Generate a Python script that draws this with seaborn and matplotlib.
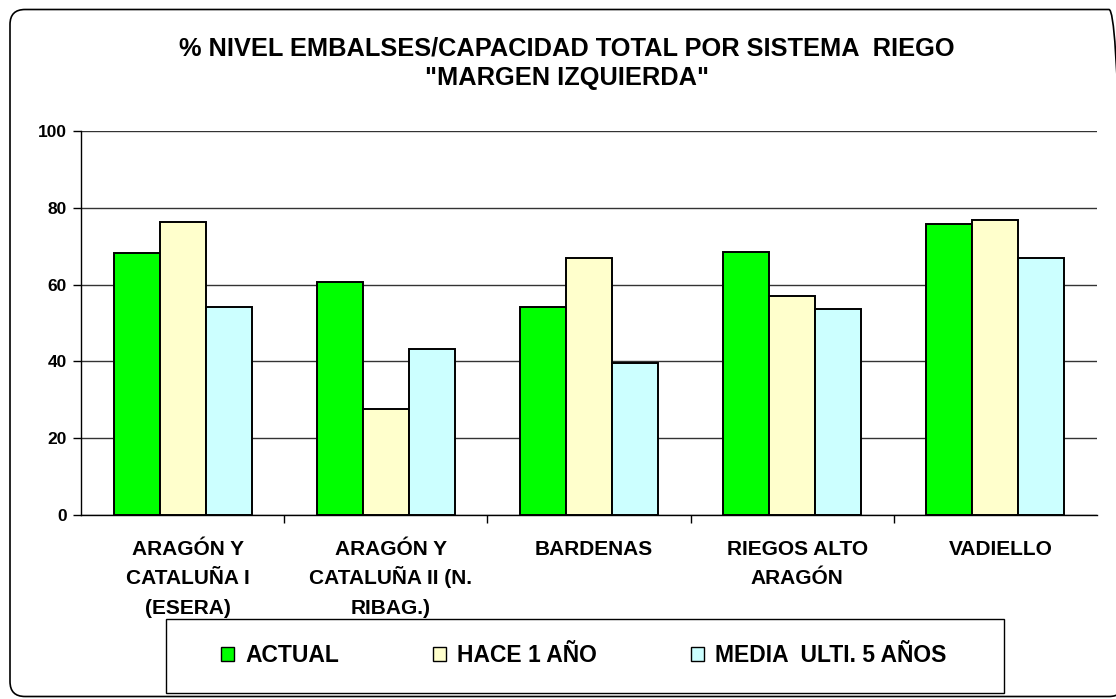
import numpy as np
import pandas as pd
import matplotlib
matplotlib.use('Agg')
import matplotlib.pyplot as plt
import matplotlib.transforms as mtransforms
from matplotlib.patches import FancyBboxPatch, Rectangle
import seaborn as sns

# Datos
sistemas = ['ARAGÓN Y\nCATALUÑA I\n(ESERA)', 'ARAGÓN Y\nCATALUÑA II (N.\nRIBAG.)',
            'BARDENAS', 'RIEGOS ALTO\nARAGÓN', 'VADIELLO']
actual = [68.2, 60.8, 54.1, 68.6, 75.7]
hace_1_anyo = [76.4, 27.7, 66.9, 57.0, 76.9]
media_5 = [54.1, 43.3, 39.7, 53.7, 66.9]
series = ['ACTUAL', 'HACE 1 AÑO', 'MEDIA  ULTI. 5 AÑOS']
colores = ['#00FF00', '#FFFFCC', '#CCFFFF']

df = pd.DataFrame({
    'Sistema': sistemas * 3,
    'Serie': [series[0]] * 5 + [series[1]] * 5 + [series[2]] * 5,
    'Valor': actual + hace_1_anyo + media_5,
})

sns.set_theme(style='white')
plt.rcParams['font.family'] = ['Liberation Sans', 'DejaVu Sans']
plt.rcParams['font.weight'] = 'bold'
plt.rcParams['text.color'] = 'black'
plt.rcParams['xtick.color'] = 'black'
plt.rcParams['ytick.color'] = 'black'
plt.rcParams['axes.labelcolor'] = 'black'

fig = plt.figure(figsize=(11.16, 6.99), dpi=100)
ax = fig.add_axes([81 / 1116, 1 - 515 / 699, 1016 / 1116, 384 / 699])

sns.barplot(data=df, x='Sistema', y='Valor', hue='Serie', palette=colores,
            width=0.68, edgecolor='black', linewidth=1.4, saturation=1,
            ax=ax, legend=False, zorder=3)

# Rejilla y ejes
ax.set_ylim(0, 100)
ax.set_xlim(-0.5, 4.5)
ax.set_yticks([0, 20, 40, 60, 80, 100])
ax.yaxis.grid(True, color='#333333', linewidth=1)
ax.set_axisbelow(True)
for s in ['top', 'right']:
    ax.spines[s].set_visible(False)
for s in ['left', 'bottom']:
    ax.spines[s].set_color('black')
    ax.spines[s].set_linewidth(1)
ax.set_xlabel('')
ax.set_ylabel('')
ax.tick_params(axis='y', direction='out', length=6, width=1, color='black',
               labelsize=12.5, pad=4, left=True)
for lab in ax.get_yticklabels():
    lab.set_fontweight('bold')
ax.set_xticks(range(len(sistemas)))
ax.set_xticklabels([])
ax.tick_params(axis='x', which='major', length=0)
ax.set_xticks(np.arange(0.5, len(sistemas) - 0.5, 1), minor=True)
ax.tick_params(axis='x', which='minor', direction='out', length=6, width=1,
               color='black', bottom=True)

# Etiquetas del eje x, una línea por texto para que queden alineadas
for i, nombre in enumerate(sistemas):
    for j, linea in enumerate(nombre.split('\n')):
        tr = mtransforms.offset_copy(ax.get_xaxis_transform(), fig=fig,
                                     x=5, y=-(40 + 29.5 * j), units='dots')
        ax.text(i, 0, linea, transform=tr, ha='center', va='baseline',
                fontsize=15, fontweight='bold')

# Título
fig.text(567 / 1116, 1 - 63 / 699, '% NIVEL EMBALSES/CAPACIDAD TOTAL POR SISTEMA  RIEGO\n"MARGEN IZQUIERDA"',
         ha='center', va='center', fontsize=18.3, fontweight='bold', linespacing=1.28)

# Leyenda
handles = [plt.Rectangle((0, 0), 1, 1, facecolor=c, edgecolor='black', linewidth=1)
           for c in colores]
leg = fig.legend(handles, series, loc='center', ncol=3,
                 bbox_to_anchor=(584 / 1116, 1 - 656 / 699),
                 prop={'weight': 'bold', 'size': 16.5}, frameon=False,
                 handlelength=0.55, handleheight=0.55,
                 handletextpad=0.5, columnspacing=4.1, borderpad=0,
                 borderaxespad=0)
fig.patches.append(Rectangle((166 / 1116, 1 - 693 / 699), 838 / 1116, 74 / 699,
                             transform=fig.transFigure, facecolor='none',
                             edgecolor='black', linewidth=1))

# Marco exterior redondeado
marco = FancyBboxPatch((0.10, 0.025), 11.14, 6.87,
                       boxstyle='round,pad=0,rounding_size=0.15',
                       transform=fig.dpi_scale_trans, facecolor='none',
                       edgecolor='black', linewidth=1.2, zorder=-1)
fig.patches.append(marco)

fig.savefig('out.png', dpi=100)
